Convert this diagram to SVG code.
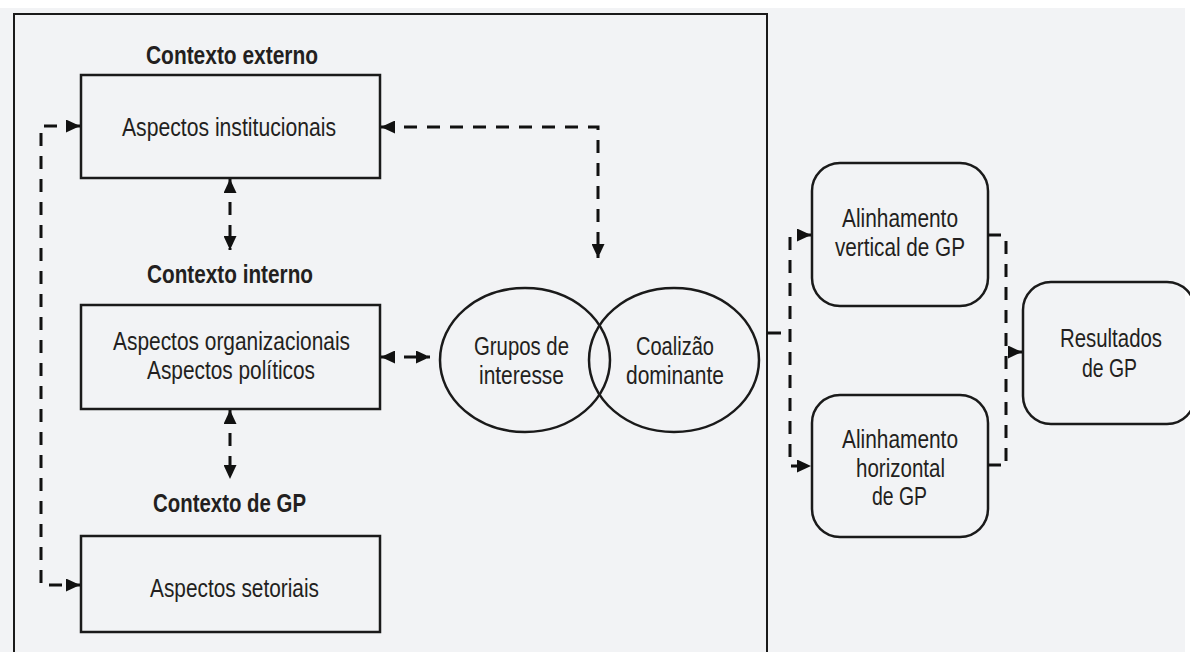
<svg xmlns="http://www.w3.org/2000/svg" width="1190" height="652" viewBox="0 0 1190 652">
<style>
.t{font-family:"Liberation Sans",Arial,sans-serif;font-size:25px;fill:#231f20;text-anchor:middle;}
.h{font-weight:bold;font-size:26px;}
.box{fill:none;stroke:#1a1a1a;stroke-width:2.5;}
.d{fill:none;stroke:#111;stroke-width:3;stroke-dasharray:13 10;}
.s{fill:none;stroke:#111;stroke-width:3;}
</style>
<defs>
<marker id="ah" viewBox="0 0 14 13" refX="14" refY="6.5" markerWidth="14" markerHeight="13" markerUnits="userSpaceOnUse" orient="auto-start-reverse">
<path d="M0,0 L14,6.5 L0,13 Z" fill="#111"/>
</marker>
</defs>
<rect x="0" y="0" width="1190" height="652" fill="#ffffff"/>
<rect x="0" y="8" width="1185" height="644" fill="#f2f3f5"/>
<g id="frame">
<rect x="14" y="14" width="753" height="640" fill="none" stroke="#1a1a1a" stroke-width="2"/>
</g>
<g id="externo">
<text class="t h" x="232" y="64" textLength="172" lengthAdjust="spacingAndGlyphs">Contexto externo</text>
<rect class="box" x="81" y="75" width="299" height="103"/>
<text class="t" x="229" y="136" textLength="214" lengthAdjust="spacingAndGlyphs">Aspectos institucionais</text>
</g>
<g id="interno">
<text class="t h" x="230" y="283" textLength="166" lengthAdjust="spacingAndGlyphs">Contexto interno</text>
<rect class="box" x="81" y="305" width="299" height="104"/>
<text class="t" x="231.5" y="350" textLength="237" lengthAdjust="spacingAndGlyphs">Aspectos organizacionais</text>
<text class="t" x="231" y="379" textLength="168" lengthAdjust="spacingAndGlyphs">Aspectos políticos</text>
</g>
<g id="gp">
<text class="t h" x="229.5" y="512" textLength="153" lengthAdjust="spacingAndGlyphs">Contexto de GP</text>
<rect class="box" x="81" y="536" width="299" height="96"/>
<text class="t" x="234.5" y="597" textLength="169" lengthAdjust="spacingAndGlyphs">Aspectos setoriais</text>
</g>
<g id="grupos">
<ellipse class="box" cx="525" cy="360" rx="85" ry="72"/>
<text class="t" x="521.5" y="355" textLength="95" lengthAdjust="spacingAndGlyphs">Grupos de</text>
<text class="t" x="521.5" y="384" textLength="85" lengthAdjust="spacingAndGlyphs">interesse</text>
</g>
<g id="coalizao">
<ellipse class="box" cx="674" cy="360" rx="85" ry="72"/>
<text class="t" x="675" y="355" textLength="78" lengthAdjust="spacingAndGlyphs">Coalizão</text>
<text class="t" x="675" y="384" textLength="98" lengthAdjust="spacingAndGlyphs">dominante</text>
</g>
<g id="vertical">
<rect class="box" x="812" y="163" width="176" height="143" rx="28"/>
<text class="t" x="900" y="227" textLength="116" lengthAdjust="spacingAndGlyphs">Alinhamento</text>
<text class="t" x="900" y="256" textLength="130" lengthAdjust="spacingAndGlyphs">vertical de GP</text>
</g>
<g id="horizontal">
<rect class="box" x="812" y="395" width="176" height="142" rx="28"/>
<text class="t" x="900" y="448" textLength="116" lengthAdjust="spacingAndGlyphs">Alinhamento</text>
<text class="t" x="900.5" y="477" textLength="89" lengthAdjust="spacingAndGlyphs">horizontal</text>
<text class="t" x="899.5" y="505" textLength="55" lengthAdjust="spacingAndGlyphs">de GP</text>
</g>
<g id="resultados">
<rect class="box" x="1023" y="282" width="172" height="142" rx="28"/>
<text class="t" x="1111" y="347" textLength="102" lengthAdjust="spacingAndGlyphs">Resultados</text>
<text class="t" x="1109.5" y="377" textLength="55" lengthAdjust="spacingAndGlyphs">de GP</text>
</g>
<g id="connectors">
<path class="d" d="M230,179 V250" marker-start="url(#ah)" marker-end="url(#ah)"/>
<path class="d" d="M230,410 V479" marker-start="url(#ah)" marker-end="url(#ah)"/>
<path class="d" d="M80,126 H41 V585 H80" marker-start="url(#ah)" marker-end="url(#ah)"/>
<path class="d" d="M381,127 H598 V258" marker-start="url(#ah)" marker-end="url(#ah)"/>
<path class="d" d="M381,357 H430" marker-start="url(#ah)" marker-end="url(#ah)"/>
<path class="s" d="M767,333 H781"/>
<path class="d" d="M811,235 H790 V466 H811" marker-start="url(#ah)" marker-end="url(#ah)"/>
<path class="s" d="M988,235 H1001"/>
<path class="s" d="M988,465 H1001"/>
<path class="d" d="M1006,241 V462"/>
<path class="s" d="M1008,352 H1022" marker-end="url(#ah)"/>
</g>
</svg>
